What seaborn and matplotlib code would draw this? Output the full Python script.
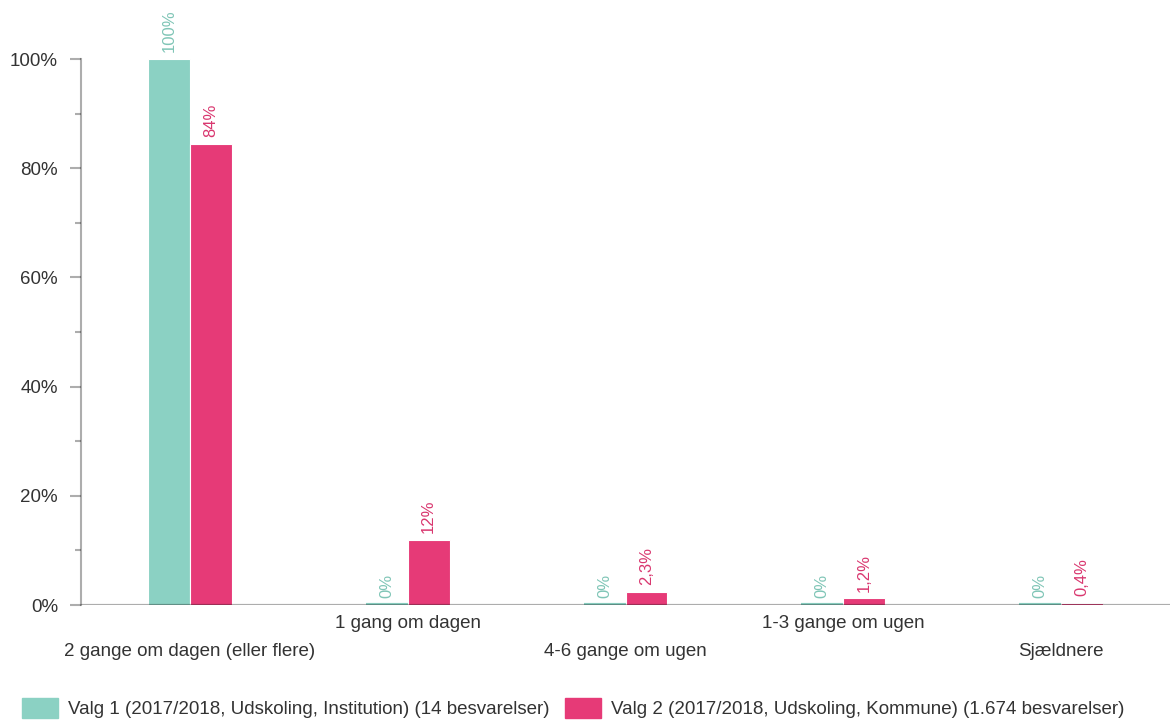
#!/usr/bin/env python3
"""
Bar chart: how often pupils eat (Udskoling 2017/2018), institution vs kommune.
"""
import matplotlib
matplotlib.use('Agg')
import matplotlib.pyplot as plt
from matplotlib.ticker import MultipleLocator
import seaborn as sns
import pandas as pd

categories = [
    '2 gange om dagen (eller flere)',
    '1 gang om dagen',
    '4-6 gange om ugen',
    '1-3 gange om ugen',
    'Sjældnere',
]
series_names = [
    'Valg 1 (2017/2018, Udskoling, Institution) (14 besvarelser)',
    'Valg 2 (2017/2018, Udskoling, Kommune) (1.674 besvarelser)',
]
valg1 = [100, 0, 0, 0, 0]
valg2 = [84.4, 11.9, 2.3, 1.2, 0.4]

bar_colors = ['#8bd1c3', '#e63a77']
label_colors = ['#7fc5b6', '#d9376f']
axis_grey = (0, 0, 0, 0.32)


def fmt_pct(v):
    """Danish style percent label."""
    if v == 0 or v >= 10:
        return f"{round(v):d}%"
    return f"{v:.1f}%".replace('.', ',')


def main():
    rows = []
    for name, vals in zip(series_names, [valg1, valg2]):
        for cat, v in zip(categories, vals):
            rows.append({'kategori': cat, 'andel': v, 'valg': name})
    df = pd.DataFrame(rows)

    sns.set_theme(style='white')
    plt.rcParams['font.family'] = ['Liberation Sans', 'DejaVu Sans']

    fig = plt.figure(figsize=(11.7, 7.2), dpi=100)
    ax = fig.add_axes([81 / 1170, 1 - 605 / 720, 1 - 81 / 1170, (605 - 59) / 720])

    sns.barplot(data=df, x='kategori', y='andel', hue='valg', palette=bar_colors,
                width=0.385, saturation=1, errorbar=None, linewidth=0.8,
                edgecolor='white', ax=ax, legend=False)

    # zero bars still show as a thin strip on the baseline
    for p in ax.patches:
        if p.get_height() == 0:
            p.set_edgecolor(p.get_facecolor())
            p.set_linewidth(3)

    for cont, vals, col in zip(ax.containers, [valg1, valg2], label_colors):
        ax.bar_label(cont, labels=[fmt_pct(v) for v in vals], padding=5,
                     rotation=90, color=col, fontsize=12)

    ax.set_xlim(-0.5, 4.5)
    ax.set_ylim(0, 100)
    ax.axhline(0, color='black', alpha=0.32, lw=2.3, zorder=5)

    ax.yaxis.set_major_locator(MultipleLocator(20))
    ax.yaxis.set_minor_locator(MultipleLocator(10))
    ax.set_yticklabels([f"{int(t)}%" for t in ax.get_yticks()])
    ax.tick_params(axis='y', which='major', length=8, width=1.5, color=axis_grey,
                   pad=8.5, labelsize=13.5, labelcolor='#333333', left=True)
    ax.tick_params(axis='y', which='minor', length=4, width=1.5, color=axis_grey, left=True)
    ax.tick_params(axis='x', length=0, labelsize=13.5, labelcolor='#333333')

    # staggered category labels
    for i, tick in enumerate(ax.xaxis.get_major_ticks()):
        tick.set_pad(7 if i % 2 else 27)

    ax.set_xlabel('')
    ax.set_ylabel('')
    for side in ['top', 'right', 'bottom']:
        ax.spines[side].set_visible(False)
    ax.spines['left'].set_color(axis_grey)
    ax.spines['left'].set_linewidth(1.5)

    handles = [plt.Rectangle((0, 0), 1, 1, color=c) for c in bar_colors]
    fig.legend(handles, series_names, loc='center left', ncol=2,
               bbox_to_anchor=(22 / 1170, 1 - 708 / 720), frameon=False,
               fontsize=13.5, handlelength=1.9, handleheight=1.25,
               handletextpad=0.55, columnspacing=0.85, borderpad=0,
               borderaxespad=0, labelcolor='#333333')

    fig.savefig('out.png', dpi=100)
    print("Plot saved to: out.png")


if __name__ == '__main__':
    main()
